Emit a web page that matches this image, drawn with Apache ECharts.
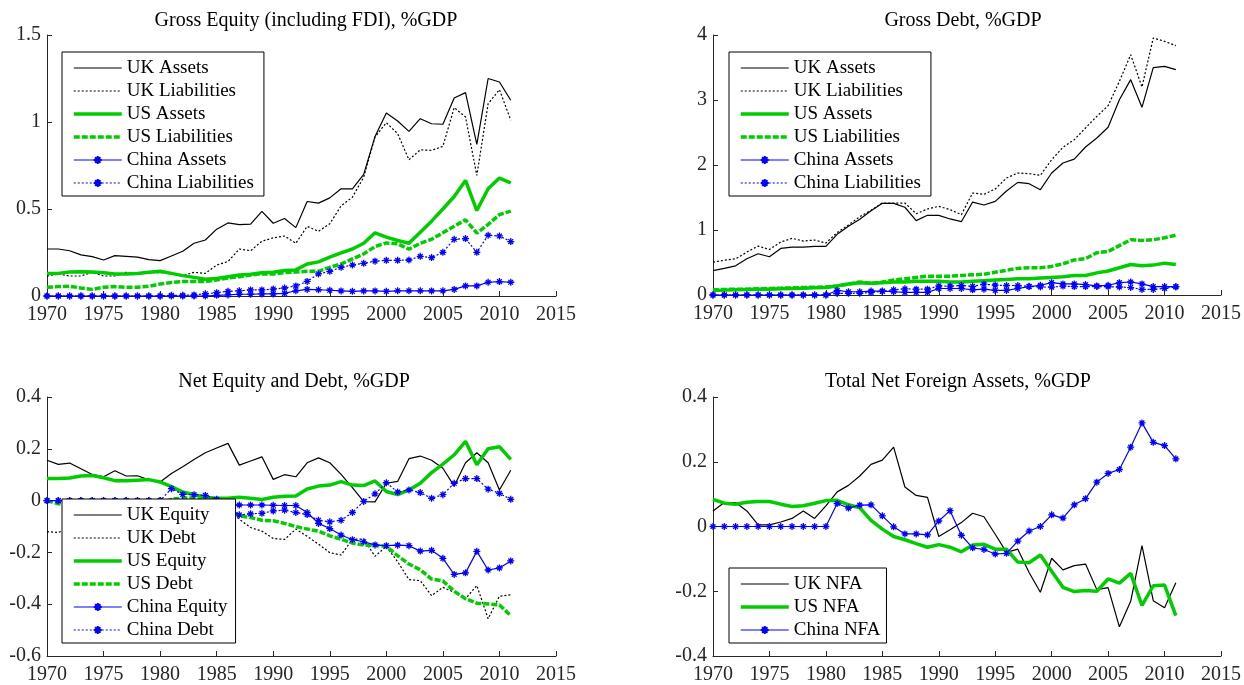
<!DOCTYPE html>
<html><head><meta charset="utf-8">
<script src="https://cdn.jsdelivr.net/npm/echarts@6/dist/echarts.min.js"></script>
<style>html,body{margin:0;padding:0;background:#fff}#c{width:1244px;height:685px}</style>
</head><body><div id="c"></div>
<script>
const years = [1970,1971,1972,1973,1974,1975,1976,1977,1978,1979,1980,1981,1982,1983,1984,1985,1986,1987,1988,1989,1990,1991,1992,1993,1994,1995,1996,1997,1998,1999,2000,2001,2002,2003,2004,2005,2006,2007,2008,2009,2010,2011];

// Panel 1: Gross Equity (including FDI), %GDP
const eqUKAssets = [0.27,0.27,0.26,0.236,0.226,0.207,0.232,0.228,0.223,0.209, 0.203,0.23,0.257,0.303,0.322,0.384,0.42,0.41,0.413,0.486, 0.418,0.445,0.393,0.543,0.534,0.564,0.616,0.616,0.699,0.917, 1.052,1.006,0.946,1.019,0.99,0.987,1.138,1.169,0.871,1.25, 1.23,1.125];
const eqUKLiab = [0.115,0.127,0.115,0.115,0.136,0.115,0.115,0.136,0.127,0.134, 0.134,0.127,0.117,0.136,0.13,0.178,0.198,0.27,0.26,0.315, 0.334,0.345,0.303,0.4,0.372,0.415,0.518,0.568,0.683,0.914, 0.996,0.933,0.783,0.84,0.837,0.86,1.083,1.029,0.693,1.105, 1.186,1.01];
const eqUSAssets = [0.13,0.13,0.138,0.14,0.138,0.134,0.127,0.127,0.129,0.136, 0.142,0.13,0.117,0.107,0.096,0.1,0.111,0.121,0.125,0.134, 0.136,0.146,0.15,0.184,0.196,0.223,0.248,0.27,0.303,0.363, 0.338,0.319,0.303,0.367,0.43,0.5,0.572,0.664,0.491,0.616, 0.678,0.65];
const eqUSLiab = [0.05,0.054,0.056,0.046,0.038,0.05,0.054,0.05,0.05,0.056, 0.069,0.077,0.083,0.083,0.083,0.092,0.104,0.111,0.121,0.127, 0.127,0.134,0.138,0.142,0.142,0.165,0.184,0.213,0.242,0.284, 0.305,0.3,0.269,0.303,0.326,0.363,0.401,0.438,0.361,0.411, 0.468,0.488];
const eqCNAssets = [0,0,0,0,0,0,0,0,0,0, 0,0,0,0,0,0.004,0.006,0.01,0.01,0.012, 0.012,0.015,0.03,0.038,0.036,0.033,0.029,0.027,0.029,0.029, 0.027,0.03,0.03,0.03,0.029,0.03,0.038,0.058,0.058,0.079, 0.083,0.079];
const eqCNLiab = [0,0,0,0,0,0,0,0,0,0, 0,0.004,0.004,0.006,0.013,0.019,0.027,0.03,0.035,0.035, 0.04,0.046,0.058,0.084,0.127,0.142,0.165,0.178,0.188,0.2, 0.205,0.205,0.207,0.228,0.221,0.251,0.326,0.33,0.251,0.349, 0.345,0.313];

// Panel 2: Gross Debt, %GDP
const dtUKAssets = [0.376,0.41,0.449,0.557,0.634,0.588,0.716,0.737,0.737,0.747, 0.747,0.933,1.057,1.166,1.295,1.41,1.41,1.35,1.144,1.226, 1.226,1.17,1.128,1.43,1.385,1.44,1.6,1.733,1.713,1.62, 1.877,2.03,2.09,2.277,2.415,2.58,3.005,3.313,2.887,3.497, 3.518,3.467];
const dtUKLiab = [0.505,0.535,0.556,0.66,0.753,0.7,0.815,0.872,0.83,0.846, 0.8,0.96,1.077,1.205,1.303,1.415,1.415,1.415,1.251,1.323, 1.364,1.313,1.236,1.569,1.549,1.631,1.8,1.877,1.867,1.841, 2.082,2.272,2.39,2.569,2.749,2.913,3.287,3.697,3.2,3.954, 3.903,3.836];
const dtUSAssets = [0.07,0.075,0.08,0.085,0.09,0.09,0.095,0.1,0.105,0.11, 0.115,0.14,0.17,0.19,0.18,0.19,0.2,0.2,0.21,0.21, 0.21,0.2,0.2,0.21,0.22,0.23,0.24,0.25,0.25,0.26, 0.27,0.28,0.3,0.3,0.34,0.37,0.42,0.47,0.45,0.46, 0.49,0.47];
const dtUSLiab = [0.08,0.085,0.09,0.09,0.095,0.1,0.105,0.11,0.115,0.12, 0.125,0.14,0.17,0.2,0.18,0.2,0.23,0.25,0.27,0.29, 0.29,0.29,0.3,0.31,0.32,0.35,0.38,0.41,0.42,0.42, 0.44,0.48,0.54,0.56,0.65,0.67,0.76,0.85,0.84,0.85, 0.88,0.92];
const dtCNAssets = [0,0,0,0,0,0,0,0,0,0, 0,0.07,0.05,0.05,0.06,0.06,0.05,0.04,0.04,0.04, 0.1,0.1,0.1,0.08,0.09,0.07,0.07,0.1,0.13,0.15, 0.19,0.17,0.17,0.16,0.14,0.15,0.19,0.2,0.17,0.13, 0.13,0.13];
const dtCNLiab = [0,0,0,0,0,0,0,0,0,0, 0,0.025,0.026,0.027,0.04,0.055,0.08,0.095,0.09,0.09, 0.14,0.137,0.146,0.134,0.166,0.152,0.146,0.146,0.133,0.124, 0.121,0.137,0.129,0.129,0.131,0.127,0.123,0.115,0.085,0.086, 0.102,0.125];

// Panel 3: Net Equity and Debt, %GDP
const netUKEquity = [0.156,0.14,0.145,0.123,0.101,0.092,0.115,0.095,0.096,0.08, 0.072,0.105,0.131,0.159,0.185,0.203,0.221,0.137,0.153,0.169, 0.082,0.1,0.092,0.146,0.165,0.146,0.101,0.05,-0.004,-0.005, 0.067,0.074,0.162,0.172,0.156,0.125,0.056,0.146,0.185,0.146, 0.041,0.117];
const netUKDebt = [-0.12,-0.123,-0.105,-0.1,-0.12,-0.11,-0.1,-0.135,-0.09,-0.1, -0.055,-0.03,-0.027,-0.04,-0.01,-0.01,-0.03,-0.072,-0.104,-0.118, -0.146,-0.15,-0.11,-0.138,-0.168,-0.201,-0.21,-0.149,-0.149,-0.215, -0.177,-0.236,-0.305,-0.309,-0.367,-0.335,-0.354,-0.379,-0.328,-0.456, -0.369,-0.364];
const netUSEquity = [0.085,0.085,0.087,0.095,0.097,0.088,0.077,0.077,0.079,0.081, 0.072,0.054,0.033,0.023,0.013,0.009,0.009,0.013,0.009,0.004, 0.013,0.017,0.018,0.045,0.056,0.06,0.073,0.06,0.058,0.076, 0.035,0.023,0.041,0.067,0.108,0.141,0.177,0.229,0.138,0.2, 0.208,0.159];
const netUSDebt = [0,-0.012,-0.02,-0.02,-0.015,-0.015,-0.02,-0.02,-0.02,-0.015, -0.01,0.005,0.01,0.01,0,-0.01,-0.03,-0.059,-0.065,-0.076, -0.078,-0.088,-0.1,-0.11,-0.118,-0.136,-0.149,-0.164,-0.172,-0.172, -0.177,-0.213,-0.245,-0.267,-0.303,-0.31,-0.35,-0.379,-0.396,-0.399, -0.403,-0.444];
const netCNEquity = [0,0,0,0,0,0,0,0,0,0, 0,-0.004,-0.004,-0.006,-0.013,-0.015,-0.017,-0.017,-0.017,-0.017, -0.018,-0.019,-0.019,-0.046,-0.088,-0.108,-0.133,-0.151,-0.159,-0.171, -0.174,-0.172,-0.174,-0.195,-0.192,-0.223,-0.285,-0.279,-0.196,-0.268, -0.26,-0.233];
const netCNDebt = [0,0,0,0,0,0,0,0,0,0, 0,0.046,0.024,0.023,0.02,0.005,-0.03,-0.055,-0.051,-0.049, -0.04,-0.037,-0.046,-0.054,-0.076,-0.082,-0.076,-0.046,-0.003,0.026, 0.069,0.033,0.041,0.031,0.009,0.023,0.067,0.085,0.085,0.044, 0.028,0.005];

// Panel 4: Total Net Foreign Assets, %GDP
const nfaUK = [0.048,0.074,0.074,0.048,0.005,0.005,0.014,0.025,0.048,0.025, 0.064,0.107,0.127,0.156,0.192,0.205,0.245,0.122,0.096,0.09, -0.031,-0.01,0.012,0.041,0.03,-0.024,-0.08,-0.07,-0.142,-0.203, -0.098,-0.134,-0.121,-0.116,-0.195,-0.189,-0.31,-0.231,-0.059,-0.229, -0.251,-0.174];
const nfaUS = [0.084,0.072,0.069,0.075,0.077,0.077,0.069,0.062,0.064,0.072, 0.08,0.081,0.067,0.058,0.019,-0.008,-0.031,-0.041,-0.053,-0.064, -0.056,-0.064,-0.078,-0.057,-0.055,-0.07,-0.07,-0.11,-0.112,-0.088, -0.138,-0.188,-0.201,-0.198,-0.2,-0.162,-0.175,-0.145,-0.244,-0.183, -0.181,-0.275];
const nfaCN = [0,0,0,0,0,0,0,0,0,0, 0,0.071,0.057,0.066,0.067,0.033,-0.001,-0.023,-0.023,-0.026, 0.017,0.049,-0.027,-0.066,-0.071,-0.085,-0.083,-0.045,-0.014,0, 0.036,0.026,0.067,0.086,0.137,0.164,0.176,0.245,0.32,0.26, 0.25,0.209];

const titles = ['Gross Equity (including FDI), %GDP','Gross Debt, %GDP','Net Equity and Debt, %GDP','Total Net Foreign Assets, %GDP'];
const xTicks = {min:1970, max:2015, interval:5};
const yRanges = [{min:0,max:1.5,interval:0.5},{min:0,max:4,interval:1},{min:-0.6,max:0.4,interval:0.2},{min:-0.4,max:0.4,interval:0.2}];

const FONT = "'Liberation Serif','Times New Roman',serif";
const STAR = 'path://M5,0L5,10M0,5L10,5M1.6,1.6L8.4,8.4M1.6,8.4L8.4,1.6';
const GREEN = '#00cc00', BLUE = '#0000ff';
const STY = {
  kSolid:{color:'#000', width:1.2, type:'solid', sym:false},
  kDot:{color:'#000', width:1.2, type:[2,2], sym:false},
  gSolid:{color:GREEN, width:3.5, type:'solid', sym:false},
  gDash:{color:GREEN, width:3.5, type:[6,2], sym:false},
  bStar:{color:BLUE, width:1.2, type:'solid', sym:true},
  bStarDot:{color:BLUE, width:1.2, type:[2,2], sym:true}
};

const panels = [
  [['UK Assets',eqUKAssets,'kSolid'],['UK Liabilities',eqUKLiab,'kDot'],['US Assets',eqUSAssets,'gSolid'],['US Liabilities',eqUSLiab,'gDash'],['China Assets',eqCNAssets,'bStar'],['China Liabilities',eqCNLiab,'bStarDot']],
  [['UK Assets',dtUKAssets,'kSolid'],['UK Liabilities',dtUKLiab,'kDot'],['US Assets',dtUSAssets,'gSolid'],['US Liabilities',dtUSLiab,'gDash'],['China Assets',dtCNAssets,'bStar'],['China Liabilities',dtCNLiab,'bStarDot']],
  [['UK Equity',netUKEquity,'kSolid'],['UK Debt',netUKDebt,'kDot'],['US Equity',netUSEquity,'gSolid'],['US Debt',netUSDebt,'gDash'],['China Equity',netCNEquity,'bStar'],['China Debt',netCNDebt,'bStarDot']],
  [['UK NFA',nfaUK,'kSolid'],['US NFA',nfaUS,'gSolid'],['China NFA',nfaCN,'bStar']]
];

const gridPos = [{left:47,top:35,width:509,height:261},{left:713,top:35,width:509,height:260},{left:47,top:397,width:509,height:260},{left:713,top:397,width:509,height:260}];
const titlePos = [{x:306,y:11},{x:963,y:11},{x:294,y:372},{x:958,y:372}];
const legendPos = [{left:62,top:52,pr:10},{left:729,top:52,pr:10},{left:62,top:499,pr:8},{left:729,top:568,pr:6}];

const axisColor = '#262626';
const grid = [], xAxis = [], yAxis = [], series = [], legend = [], title = [];
gridPos.forEach((g,i)=>{
  grid.push(Object.assign({containLabel:false}, g));
  xAxis.push({type:'value', gridIndex:i, min:xTicks.min, max:xTicks.max, interval:xTicks.interval,
    axisLine:{show:true, onZero:false, lineStyle:{color:axisColor, width:1}},
    axisTick:{show:true, inside:true, length:5, lineStyle:{color:axisColor}},
    axisLabel:{formatter:v=>String(v), fontFamily:FONT, fontSize:20, color:axisColor, margin:9},
    splitLine:{show:false}});
  yAxis.push({type:'value', gridIndex:i, min:yRanges[i].min, max:yRanges[i].max, interval:yRanges[i].interval,
    axisLine:{show:true, onZero:false, lineStyle:{color:axisColor, width:1}},
    axisTick:{show:true, inside:true, length:5, lineStyle:{color:axisColor}},
    axisLabel:{formatter:v=>String(Math.round(v*10)/10), fontFamily:FONT, fontSize:20, color:axisColor, margin:6},
    splitLine:{show:false}});
  title.push({text:titles[i], left:titlePos[i].x, top:titlePos[i].y, textAlign:'center', padding:0,
    textStyle:{fontFamily:FONT, fontSize:20, fontWeight:'normal', color:'#000'}});
  const names = [];
  panels[i].forEach(([name, vals, sk], k)=>{
    const s = STY[sk];
    series.push({type:'line', name, xAxisIndex:i, yAxisIndex:i,
      data: years.map((y,j)=>[y, vals[j]]),
      symbol: s.sym ? STAR : 'none', symbolSize:7, showSymbol:s.sym, showAllSymbol:true,
      lineStyle:{color:s.color, width:s.width, type:s.type},
      itemStyle:{color:s.color, borderColor:s.color, borderWidth:1.3},
      emphasis:{disabled:true}, animation:false, z:2+k*0.01});
    const item = {name, lineStyle:{color:s.color, width:s.width, type:s.type}};
    if (!s.sym) item.itemStyle = {color:'rgba(0,0,0,0)', borderColor:'rgba(0,0,0,0)', borderWidth:0, opacity:0};
    names.push(item);
  });
  legend.push({orient:'vertical', left:legendPos[i].left, top:legendPos[i].top, data:names,
    itemWidth:48, itemHeight:10, itemGap:3, padding:[6,legendPos[i].pr,3,10],
    borderColor:'#000', borderWidth:1, backgroundColor:'#fff', selectedMode:false,
    textStyle:{fontFamily:FONT, fontSize:19, color:'#000', lineHeight:20}});
});

const chart = echarts.init(document.getElementById('c'), null, {renderer:'canvas'});
chart.setOption({backgroundColor:'#fff', animation:false, title, grid, xAxis, yAxis, legend, series});
</script></body></html>
